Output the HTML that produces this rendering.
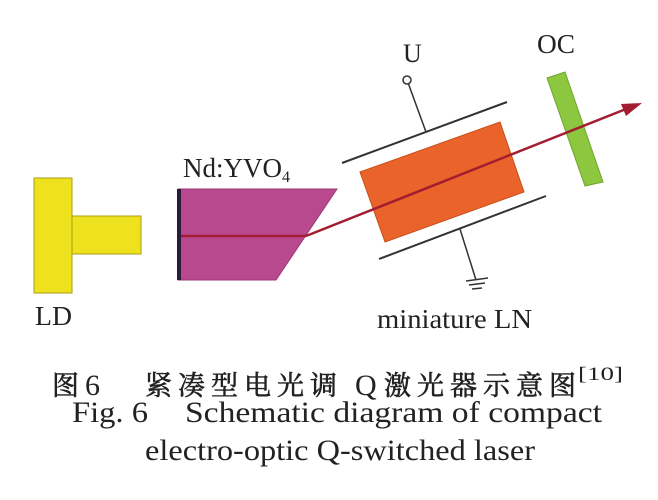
<!DOCTYPE html>
<html>
<head>
<meta charset="utf-8">
<style>
html,body{margin:0;padding:0;background:#fff;}
svg{display:block;}
.lat{font-family:"Liberation Serif","Noto Serif CJK SC",serif;fill:#222;}
.cjk{font-family:"Noto Serif CJK SC","Noto Sans CJK SC",serif;fill:#222;stroke:#222;stroke-width:0.6;}
</style>
</head>
<body>
<svg width="658" height="500" viewBox="0 0 658 500" xmlns="http://www.w3.org/2000/svg">
  <rect width="658" height="500" fill="#ffffff"/>

  <!-- LD -->
  <rect x="34" y="178" width="38" height="115" fill="#eee21e" stroke="#a99d12" stroke-width="1"/>
  <rect x="72" y="216" width="69" height="38" fill="#eee21e" stroke="#a99d12" stroke-width="1"/>
  <text class="lat" x="35" y="325" font-size="27" textLength="37" lengthAdjust="spacingAndGlyphs">LD</text>

  <!-- Nd:YVO4 crystal -->
  <polygon points="178,189 337,189 276,280 178,280" fill="#b9498f" stroke="#9c3877" stroke-width="1"/>
  <rect x="177" y="189" width="4" height="91" fill="#2a1c3c"/>
  <text class="lat" x="183" y="177" font-size="27">Nd:YVO<tspan font-size="16" dy="5">4</tspan></text>

  <!-- Beam inside crystal -->
  <line x1="181" y1="236" x2="306" y2="236" stroke="#a31c35" stroke-width="2.5"/>

  <!-- Plates -->
  <line x1="342" y1="163" x2="507" y2="102" stroke="#333" stroke-width="2"/>
  <line x1="379" y1="259" x2="546" y2="196" stroke="#333" stroke-width="2"/>

  <!-- U terminal -->
  <circle cx="407" cy="80" r="4" fill="#fff" stroke="#333" stroke-width="1.5"/>
  <line x1="408.5" y1="84" x2="426" y2="132" stroke="#333" stroke-width="1.5"/>
  <text class="lat" x="403" y="62" font-size="26">U</text>

  <!-- Ground -->
  <line x1="460" y1="229" x2="476" y2="280" stroke="#333" stroke-width="1.5"/>
  <line x1="466" y1="281" x2="488" y2="278" stroke="#333" stroke-width="1.5"/>
  <line x1="469" y1="285" x2="485" y2="283" stroke="#333" stroke-width="1.5"/>
  <line x1="472" y1="289" x2="482" y2="288" stroke="#333" stroke-width="1.5"/>

  <!-- Orange LN crystal -->
  <polygon points="360,172 500,122 524,192 385,242" fill="#ea632a" stroke="#c84e1c" stroke-width="1"/>

  <!-- OC -->
  <polygon points="547,78 565,72 603,182 585,186" fill="#8dc63f" stroke="#6fa52c" stroke-width="1"/>
  <text class="lat" x="537" y="53" font-size="27" textLength="38" lengthAdjust="spacingAndGlyphs">OC</text>

  <!-- Beam -->
  <line x1="306" y1="236" x2="626" y2="109" stroke="#a31c30" stroke-width="2.5"/>
  <polygon points="642,103 621,104 626,116" fill="#a31c30"/>

  <text class="lat" x="377" y="328" font-size="27" textLength="155" lengthAdjust="spacingAndGlyphs">miniature LN</text>

  <!-- Caption line 1 -->
  <g font-size="27">
    <text class="cjk" x="52" y="395">图</text>
    <text class="lat" x="85" y="395" font-size="30">6</text>
    <text class="cjk" x="145" y="395">紧</text>
    <text class="cjk" x="178" y="395">凑</text>
    <text class="cjk" x="211" y="395">型</text>
    <text class="cjk" x="244" y="395">电</text>
    <text class="cjk" x="277" y="395">光</text>
    <text class="cjk" x="310" y="395">调</text>
    <text class="lat" x="355" y="395" font-size="30">Q</text>
    <text class="cjk" x="384" y="395">激</text>
    <text class="cjk" x="417" y="395">光</text>
    <text class="cjk" x="450" y="395">器</text>
    <text class="cjk" x="483" y="395">示</text>
    <text class="cjk" x="516" y="395">意</text>
    <text class="cjk" x="549" y="395">图</text>
    <text class="lat" x="578" y="380" font-size="19" textLength="45" lengthAdjust="spacingAndGlyphs">[10]</text>
  </g>

  <!-- Caption line 2 -->
  <text class="lat" x="72" y="422" font-size="30" textLength="76" lengthAdjust="spacingAndGlyphs">Fig. 6</text>
  <text class="lat" x="185" y="422" font-size="30" textLength="417" lengthAdjust="spacingAndGlyphs">Schematic diagram of compact</text>

  <!-- Caption line 3 -->
  <text class="lat" x="145" y="460" font-size="30" textLength="390" lengthAdjust="spacingAndGlyphs">electro-optic Q-switched laser</text>
</svg>
</body>
</html>
